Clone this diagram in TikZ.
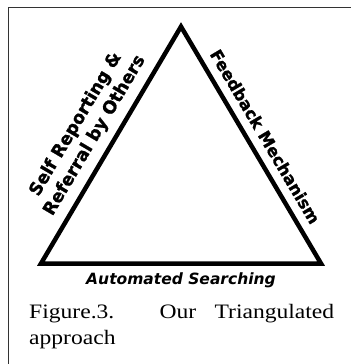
\documentclass[tikz,border=0pt]{standalone}
\usepackage{fontspec}
\setmainfont{Liberation Serif}
\newfontfamily\labfont[BoldFeatures={FakeBold=1.2}]{DejaVu Sans}
\newfontfamily\capfont[FakeStretch=1.15]{Liberation Serif}

\begin{document}
\begin{tikzpicture}[x=1pt,y=-1pt,
	tri/.style	= {line width=4.5pt, line join=miter},
	lab/.style	= {font=\labfont\bfseries\fontsize{16.5}{20}\selectfont, inner sep=0pt, align=center},
	frame/.style	= {line width=1.3pt, draw=black!80}]
	%\draw[help lines] (0,0) grid (351,364);
	\useasboundingbox (0,0) rectangle (351,364);
	\draw[frame] (8.5,364) -- (8.5,7.5) -- (351,7.5);

	\coordinate (apex) at (181,26.6);
	\coordinate (bl) at (41,263.5);
	\coordinate (br) at (321,263.5);

	\draw[tri] (bl)
		-- node[lab, sloped, above=8pt, pos=0.5, font=\labfont\bfseries\fontsize{17.5}{22}\selectfont] (self) {Self Reporting \&\\Referral by Others} (apex)
		-- node[lab, sloped, above=8pt, pos=0.5] (feed) {Feedback Mechanism} (br)
		-- node[lab, below=7pt, font=\labfont\bfseries\itshape\fontsize{15.5}{18}\selectfont] (auto) {Automated Searching} (bl)
		-- cycle;

	\node[anchor=base west, inner sep=0pt, text width=305pt, align=justify,
		font=\capfont\fontsize{20.5}{26}\selectfont] (cap) at (29,318)
		{Figure.3. Our Triangulated\linebreak approach};
\end{tikzpicture}
\end{document}
